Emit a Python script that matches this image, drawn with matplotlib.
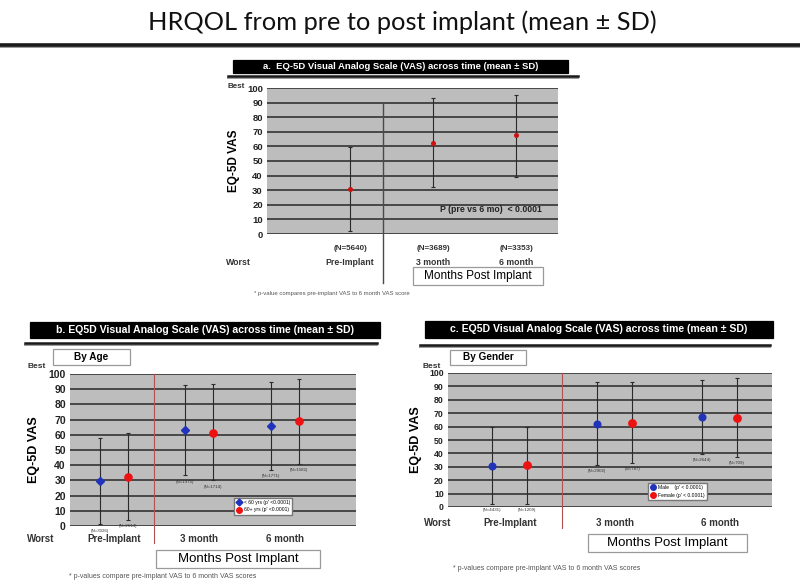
import matplotlib
matplotlib.use('Agg')
import matplotlib.pyplot as plt
from matplotlib.patches import Rectangle
from matplotlib.lines import Line2D
import numpy as np

plt.rcParams['font.family'] = ['Liberation Sans', 'DejaVu Sans']

# ---- data ----
cats = ['Pre-Implant', '3 month', '6 month']
yticks = list(range(0, 101, 10))

# panel a: overall
a_mean = [30.5, 62.5, 67.5]
a_lo = [2, 32, 39]
a_hi = [59.5, 93, 95.5]
a_n = ['(N=5640)', '(N=3689)', '(N=3353)']

# panel b: by age
b_young_mean = [29.5, 63, 65.5]
b_young_lo = [1, 33.5, 37]
b_young_hi = [58, 93, 95]
b_young_n = [3026, 1975, 1771]
b_old_mean = [32.5, 61.5, 69]
b_old_lo = [4, 30, 41]
b_old_hi = [61, 93.5, 96.5]
b_old_n = [2614, 1714, 1582]

# panel c: by gender
c_male_mean = [30.5, 62, 67]
c_male_lo = [2.5, 31, 39.5]
c_male_hi = [60, 93, 95]
c_male_n = [4431, 2902, 2644]
c_female_mean = [31, 63, 66.5]
c_female_lo = [2, 32.5, 37]
c_female_hi = [60, 93.5, 96.5]
c_female_n = [1209, 787, 709]

W, H = 800, 583
fig = plt.figure(figsize=(W / 100, H / 100), dpi=100)
fig.patch.set_facecolor('white')


def fx(x):
    return x / W


def fy(y):
    return 1 - y / H


def rect(x0, y0, x1, y1):
    return [fx(x0), fy(y1), (x1 - x0) / W, (y1 - y0) / H]


def ftext(x, y, s, **kw):
    fig.text(fx(x), fy(y), s, **kw)


def hline(x0, x1, y, lw=2.2, color='#1a1a1a', shadow=True):
    if shadow:
        fig.add_artist(Line2D([fx(x0), fx(x1)], [fy(y + 2.2), fy(y + 2.2)], lw=1.4, color='#9a9a9a'))
    fig.add_artist(Line2D([fx(x0), fx(x1)], [fy(y), fy(y)], lw=lw, color=color))


def box(x0, y0, x1, y1, text, face='white', edge='#9a9a9a', tcolor='black', size=8, weight='normal'):
    fig.add_artist(Rectangle((fx(x0), fy(y1)), (x1 - x0) / W, (y1 - y0) / H,
                             transform=fig.transFigure, facecolor=face, edgecolor=edge, lw=0.9))
    ftext((x0 + x1) / 2, (y0 + y1) / 2, text, ha='center', va='center',
          color=tcolor, fontsize=size, fontweight=weight)


def setup_axes(r, xlim, ticksize):
    ax = fig.add_axes(rect(*r))
    ax.set_facecolor('#bdbdbd')
    ax.set_xlim(*xlim)
    ax.set_ylim(0, 100)
    for y in yticks:
        ax.axhline(y, color='#333333', lw=1.2, zorder=1)
    for s in ax.spines.values():
        s.set_visible(False)
    ax.set_xticks([])
    ax.set_yticks(yticks)
    ax.tick_params(axis='y', length=0, pad=3, labelsize=ticksize)
    for t in ax.get_yticklabels():
        t.set_fontweight('bold')
        t.set_color('#222222')
    return ax


def errbars(ax, xs, mean, lo, hi, color, marker, ms, capsize=1.5):
    mean = np.array(mean)
    yerr = [mean - np.array(lo), np.array(hi) - mean]
    ax.errorbar(xs, mean, yerr=yerr, fmt='none', ecolor='#2a2a2a', elinewidth=0.8,
                capsize=capsize, capthick=0.8, zorder=3)
    ax.plot(xs, mean, ls='none', marker=marker, color=color, ms=ms, zorder=4)


# ---- main title ----
ftext(402, 22, 'HRQOL from pre to post implant (mean ± SD)', ha='center', va='center',
      fontsize=18.3, family=['Lato', 'DejaVu Sans'], color='#111111')
hline(0, 800, 45, lw=2.6)

# ---- panel a ----
box(233, 60, 568, 73, 'a.  EQ-5D Visual Analog Scale (VAS) across time (mean ± SD)',
    face='black', edge='black', tcolor='white', size=6.8, weight='bold')
hline(228, 578, 76, lw=1.8)

xa = np.arange(len(cats))
ax = setup_axes((267, 88, 558, 234), (-1.0, 2.5), 6.8)
errbars(ax, xa, a_mean, a_lo, a_hi, '#cc1111', 'o', 2.6, capsize=1.2)
ax.axvline(0.39, ymin=-0.336, ymax=0.9, color='#4a4a4a', lw=1.0, clip_on=False, zorder=2)
ax.text(1.08, 17, 'P (pre vs 6 mo)  < 0.0001', fontsize=6.3, fontweight='bold', color='#222222', va='center')
ax.set_ylabel('EQ-5D VAS', fontsize=8.5, fontweight='bold', labelpad=5)
tr = ax.get_xaxis_transform()
for i, c in enumerate(cats):
    ax.text(xa[i], -0.10, a_n[i], transform=tr, ha='center', va='center', fontsize=5.8,
            fontweight='bold', color='#333333')
    ax.text(xa[i], -0.195, c, transform=tr, ha='center', va='center', fontsize=6.3,
            fontweight='bold', color='#333333')
ftext(238, 262, 'Worst', ha='center', va='center', fontsize=6.3, fontweight='bold', color='#333333')
ftext(236, 87, 'Best', ha='center', va='center', fontsize=5.8, fontweight='bold', color='#333333')
box(413, 267, 543, 285, 'Months Post Implant', size=8.5)
ftext(254, 294, '* p-value compares pre-implant VAS to 6 month VAS score', ha='left', va='center',
      fontsize=4.3, color='#555555')

# ---- panel b ----
box(30, 322, 380, 338, 'b. EQ5D Visual Analog Scale (VAS) across time (mean ± SD)',
    face='black', edge='black', tcolor='white', size=7.6, weight='bold')
hline(25, 377, 343, lw=1.8)
box(53, 349, 130, 365, 'By Age', size=7.2, weight='bold')

xb = np.arange(len(cats))
off_b = 0.165
ax = setup_axes((70, 374, 356, 526), (-0.51, 2.83), 7.5)
errbars(ax, xb - off_b, b_young_mean, b_young_lo, b_young_hi, '#2233bb', 'D', 4.0)
errbars(ax, xb + off_b, b_old_mean, b_old_lo, b_old_hi, '#ee1111', 'o', 5.2)
ax.axvline(0.47, ymin=-0.11, ymax=1, color='#b05050', lw=0.8, clip_on=False, zorder=2)
ax.set_ylabel('EQ-5D VAS', fontsize=9, fontweight='bold', labelpad=6)
for i in range(len(cats)):
    ax.text(xb[i] - off_b, b_young_lo[i] - 3, f'(N={b_young_n[i]})', ha='center', va='top',
            fontsize=3.2, color='#333333')
    ax.text(xb[i] + off_b, b_old_lo[i] - 3, f'(N={b_old_n[i]})', ha='center', va='top',
            fontsize=3.2, color='#333333')
tr = ax.get_xaxis_transform()
for i, c in enumerate(cats):
    ax.text(xb[i], -0.085, c, transform=tr, ha='center', va='center', fontsize=7,
            fontweight='bold', color='#333333')
ax.legend(handles=[Line2D([], [], ls='none', marker='D', color='#2233bb', ms=3.5, label='< 60 yrs (p\' <0.0001)'),
                   Line2D([], [], ls='none', marker='o', color='#ee1111', ms=4, label='60+ yrs (p\' <0.0001)')],
          loc='upper left', bbox_to_anchor=(fx(231), fy(495)), bbox_transform=fig.transFigure,
          fontsize=3.6, frameon=True, fancybox=False, edgecolor='#777777', framealpha=1,
          handletextpad=0.3, borderpad=0.5, labelspacing=0.5, handlelength=1.2)
ftext(41, 539, 'Worst', ha='center', va='center', fontsize=7, fontweight='bold', color='#333333')
ftext(37, 366, 'Best', ha='center', va='center', fontsize=6, fontweight='bold', color='#333333')
box(156, 550, 320, 568, 'Months Post Implant', size=9.5)
ftext(163, 577, '* p-values compare pre-implant VAS to 6 month VAS scores', ha='center', va='center',
      fontsize=5, color='#555555')

# ---- panel c ----
box(425, 321, 773, 338, 'c. EQ5D Visual Analog Scale (VAS) across time (mean ± SD)',
    face='black', edge='black', tcolor='white', size=7.6, weight='bold')
hline(420, 770, 345, lw=1.8)
box(450, 350, 526, 365, 'By Gender', size=7.2, weight='bold')

xc = np.arange(len(cats))
off_c = 0.167
ax = setup_axes((448, 373, 772, 507), (-0.59, 2.5), 6.3)
errbars(ax, xc - off_c, c_male_mean, c_male_lo, c_male_hi, '#2233bb', 'o', 4.8)
errbars(ax, xc + off_c, c_female_mean, c_female_lo, c_female_hi, '#ee1111', 'o', 5.3)
ax.axvline(0.5, ymin=-0.157, ymax=1, color='#b05050', lw=0.8, clip_on=False, zorder=2)
ax.set_ylabel('EQ-5D VAS', fontsize=9, fontweight='bold', labelpad=5)
for i in range(len(cats)):
    ax.text(xc[i] - off_c, c_male_lo[i] - 3, f'(N={c_male_n[i]})', ha='center', va='top',
            fontsize=3.2, color='#333333', clip_on=False)
    ax.text(xc[i] + off_c, c_female_lo[i] - 3, f'(N={c_female_n[i]})', ha='center', va='top',
            fontsize=3.2, color='#333333', clip_on=False)
tr = ax.get_xaxis_transform()
for i, c in enumerate(cats):
    ax.text(xc[i], -0.12, c, transform=tr, ha='center', va='center', fontsize=7,
            fontweight='bold', color='#333333')
ax.legend(handles=[Line2D([], [], ls='none', marker='o', color='#2233bb', ms=4, label='Male    (p\' < 0.0001)'),
                   Line2D([], [], ls='none', marker='o', color='#ee1111', ms=4, label='Female (p\' < 0.0001)')],
          loc='upper left', bbox_to_anchor=(fx(645), fy(480)), bbox_transform=fig.transFigure,
          fontsize=3.6, frameon=True, fancybox=False, edgecolor='#777777', framealpha=1,
          handletextpad=0.3, borderpad=0.5, labelspacing=0.5, handlelength=1.2)
ftext(438, 523, 'Worst', ha='center', va='center', fontsize=7, fontweight='bold', color='#333333')
ftext(432, 367, 'Best', ha='center', va='center', fontsize=6, fontweight='bold', color='#333333')
box(588, 534, 747, 552, 'Months Post Implant', size=9.5)
ftext(453, 568, '* p-values compare pre-implant VAS to 6 month VAS scores', ha='left', va='center',
      fontsize=5, color='#555555')

fig.savefig('out.png', dpi=100)
